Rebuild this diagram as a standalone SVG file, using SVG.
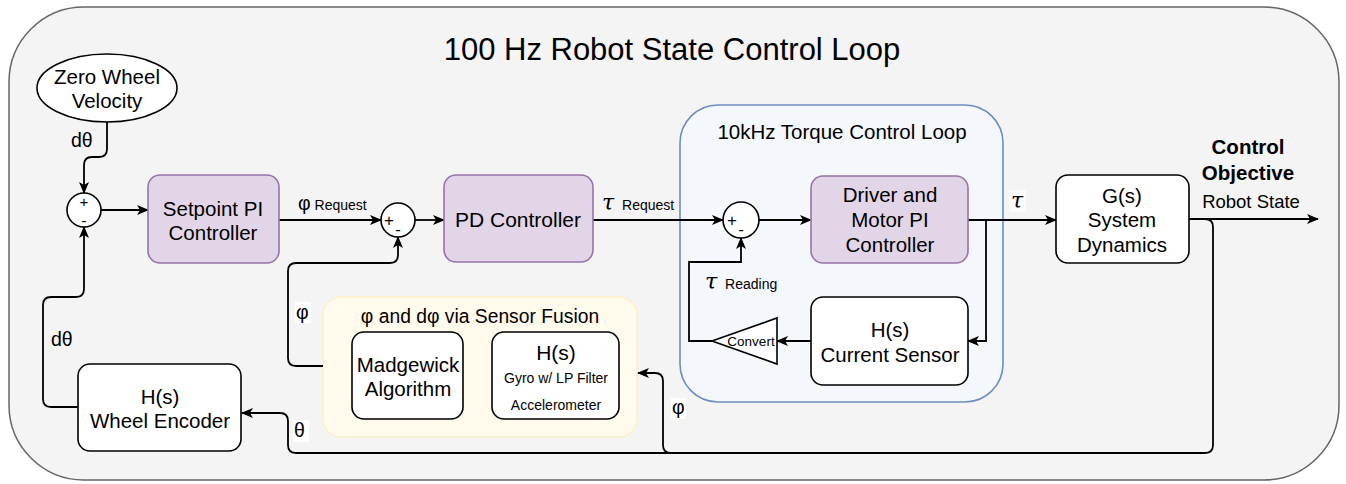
<svg xmlns="http://www.w3.org/2000/svg" width="1346" height="484" viewBox="0 0 1346 484">
<defs>
<marker id="arr" viewBox="0 0 12 10" refX="11" refY="5" markerWidth="12" markerHeight="10" markerUnits="userSpaceOnUse" orient="auto">
<path d="M0,0 L12,5 L0,10 L3,5 Z" fill="#000"/>
</marker>
<style>
text{font-family:"Liberation Sans",Arial,sans-serif;fill:#000;}
.box{fill:#fff;stroke:#000;stroke-width:1.6;}
.pur{fill:#e1d5e7;stroke:#9673a6;stroke-width:1.6;}
.sum{fill:#fff;stroke:#000;stroke-width:1.6;}
.ca{stroke:#000;stroke-width:1.8;fill:none;marker-end:url(#arr);}
.t19{font-size:20.5px;text-anchor:middle;}
.t17{font-size:19.5px;}
.sm{font-size:14px;}
.tau{font-family:"DejaVu Serif","Liberation Serif",serif;font-style:italic;font-size:22px;}
</style>
</defs>
<rect x="9" y="7" width="1330" height="473" rx="75" ry="75" fill="#f4f4f4" stroke="#666" stroke-width="1.5"/>
<text x="672" y="60" font-size="31" text-anchor="middle">100 Hz Robot State Control Loop</text>

<g id="torque-loop">
<rect x="680" y="105" width="323" height="297" rx="38" ry="38" fill="#f4f7fc" stroke="#6c8ebf" stroke-width="1.6"/>
<text x="842" y="139" font-size="20.5" text-anchor="middle">10kHz Torque Control Loop</text>
</g>
<g id="sensor-fusion">
<rect x="323" y="297" width="314" height="140" rx="18" ry="18" fill="#fffaeb" stroke="#fdf0c8" stroke-width="1.6"/>
<text x="480" y="323" font-size="19.3" text-anchor="middle">φ and dφ via Sensor Fusion</text>
</g>

<g id="connectors">
<path class="ca" d="M107,122 V149 Q107,157 99,157 H92 Q84,157 84,165 V193"/>
<path class="ca" d="M101,210 H148"/>
<path class="ca" d="M279,220 H381"/>
<path class="ca" d="M415,220 H444"/>
<path class="ca" d="M593,220 H723"/>
<path class="ca" d="M759,220 H811"/>
<path class="ca" d="M968,220 H1056"/>
<path class="ca" d="M986,220 V341 H968"/>
<path class="ca" d="M811,341 H777"/>
<path class="ca" d="M712,341 H689 V262 H741 V238"/>
<path class="ca" d="M1189,219 H1318"/>
<path class="ca" d="M1189,219 H1205 Q1213,219 1213,227 V445 Q1213,453 1205,453 H296 Q288,453 288,445 V421 Q288,413 280,413 H242"/>
<path class="ca" d="M671,453 Q663,453 663,445 V381 Q663,373 655,373 H638"/>
<path class="ca" d="M323,366 H296 Q288,366 288,358 V271 Q288,263 296,263 H390 Q398,263 398,255 V237"/>
<path class="ca" d="M78,407 H51 Q43,407 43,399 V305 Q43,297 51,297 H76 Q84,297 84,289 V227"/>
<text class="t17" x="71" y="147">dθ</text>
<text x="298" y="210"><tspan class="t17">φ</tspan><tspan class="sm"> Request</tspan></text>
<text x="602" y="210"><tspan class="tau">τ</tspan><tspan class="sm" dx="4"> Request</tspan></text>
<text x="705" y="289"><tspan class="tau">τ</tspan><tspan class="sm" dx="4"> Reading</tspan></text>
<rect x="1009" y="190" width="17" height="22" fill="#fff" opacity="0.6"/>
<text class="tau" x="1011" y="208">τ</text>
<rect x="295" y="302" width="16" height="21" fill="#fff"/>
<text class="t17" x="296" y="319">φ</text>
<rect x="293" y="420" width="16" height="22" fill="#fff"/>
<text class="t17" x="294" y="437">θ</text>
<rect x="671" y="398" width="15" height="21" fill="#fff"/>
<text class="t17" x="672" y="414">φ</text>
<text class="t17" x="51" y="346">dθ</text>
</g>

<g id="zero-wheel-velocity">
<ellipse cx="107" cy="88" rx="70" ry="34" fill="#fff" stroke="#000" stroke-width="1.6"/>
<text class="t19" x="107" y="84">Zero Wheel</text>
<text class="t19" x="107" y="108">Velocity</text>
</g>
<g id="sum1">
<circle class="sum" cx="84" cy="210" r="17"/>
<text x="84" y="207" font-size="15" text-anchor="middle">+</text>
<text x="84" y="226" font-size="15" text-anchor="middle">-</text>
</g>
<g id="setpoint-pi">
<rect class="pur" x="148" y="175" width="131" height="88" rx="12" ry="12"/>
<text class="t19" x="213" y="216">Setpoint PI</text>
<text class="t19" x="213" y="240">Controller</text>
</g>
<g id="sum2">
<circle class="sum" cx="398" cy="220" r="17"/>
<text x="389" y="226" font-size="17" text-anchor="middle">+</text>
<text x="398" y="235" font-size="17" text-anchor="middle">-</text>
</g>
<g id="pd-controller">
<rect class="pur" x="444" y="175" width="149" height="87" rx="12" ry="12"/>
<text x="518" y="227" font-size="21" text-anchor="middle">PD Controller</text>
</g>
<g id="sum3">
<circle class="sum" cx="741" cy="220" r="18"/>
<text x="732" y="226" font-size="17" text-anchor="middle">+</text>
<text x="741" y="235" font-size="17" text-anchor="middle">-</text>
</g>
<g id="driver-motor-pi">
<rect class="pur" x="811" y="176" width="157" height="87" rx="12" ry="12"/>
<text class="t19" x="890" y="202">Driver and</text>
<text class="t19" x="890" y="227">Motor PI</text>
<text class="t19" x="890" y="252">Controller</text>
</g>
<g id="current-sensor">
<rect class="box" x="811" y="297" width="157" height="88" rx="12" ry="12"/>
<text class="t19" x="890" y="337">H(s)</text>
<text class="t19" x="890" y="362">Current Sensor</text>
</g>
<g id="convert">
<polygon points="712,341 777,318 777,364" fill="#fff" stroke="#000" stroke-width="1.6"/>
<text x="751" y="346" font-size="13.5" text-anchor="middle">Convert</text>
</g>
<g id="system-dynamics">
<rect class="box" x="1056" y="175" width="133" height="88" rx="12" ry="12"/>
<text class="t19" x="1122" y="203">G(s)</text>
<text class="t19" x="1122" y="227">System</text>
<text class="t19" x="1122" y="252">Dynamics</text>
</g>
<g id="control-objective">
<text x="1248" y="154" font-size="20.5" font-weight="bold" text-anchor="middle">Control</text>
<text x="1248" y="180" font-size="20.5" font-weight="bold" text-anchor="middle">Objective</text>
<text x="1251" y="208" font-size="18.5" text-anchor="middle">Robot State</text>
</g>
<g id="madgewick">
<rect class="box" x="352" y="332" width="111" height="87" rx="12" ry="12"/>
<text class="t19" x="408" y="372">Madgewick</text>
<text class="t19" x="408" y="396">Algorithm</text>
</g>
<g id="imu-hs">
<rect class="box" x="492" y="332" width="127" height="87" rx="12" ry="12"/>
<text x="556" y="360" font-size="21" text-anchor="middle">H(s)</text>
<text x="556" y="383" font-size="14" text-anchor="middle">Gyro w/ LP Filter</text>
<text x="556" y="410" font-size="14" text-anchor="middle">Accelerometer</text>
</g>
<g id="wheel-encoder">
<rect class="box" x="78" y="364" width="163" height="87" rx="12" ry="12"/>
<text class="t19" x="160" y="404">H(s)</text>
<text class="t19" x="160" y="428">Wheel Encoder</text>
</g>
</svg>
